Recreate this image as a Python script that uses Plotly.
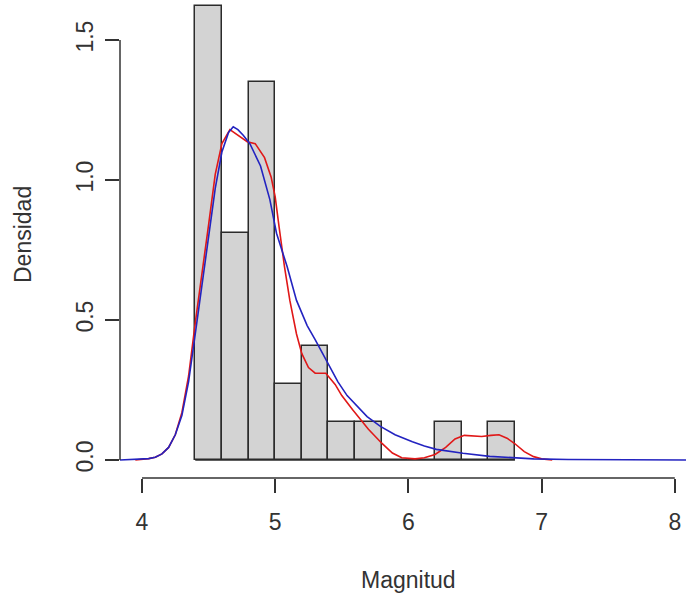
import plotly.graph_objects as go

# Histogram bins (Magnitud) and counts
bin_edges = [4.4, 4.6, 4.8, 5.0, 5.2, 5.4, 5.6, 5.8, 6.0, 6.2, 6.4, 6.6, 6.8]
counts = [12, 6, 10, 2, 3, 1, 1, 0, 0, 1, 0, 1]

# Kernel density curve (red)
kde_x = [3.95, 4.00, 4.05, 4.10, 4.15, 4.20, 4.25, 4.30, 4.35, 4.40, 4.45, 4.50, 4.55, 4.60,
         4.66, 4.72, 4.79, 4.85, 4.92, 4.97, 5.00, 5.03, 5.07, 5.11, 5.16, 5.20, 5.25, 5.30,
         5.38, 5.45, 5.50, 5.58, 5.65, 5.70, 5.80, 5.88, 5.95, 6.05, 6.12, 6.20, 6.28, 6.35,
         6.42, 6.50, 6.55, 6.62, 6.68, 6.74, 6.80, 6.87, 6.94, 7.00, 7.08]
kde_y = [0.000, 0.002, 0.005, 0.010, 0.022, 0.045, 0.09, 0.17, 0.30, 0.49, 0.66, 0.84, 1.02, 1.13,
         1.18, 1.16, 1.137, 1.13, 1.08, 1.01, 0.94, 0.83, 0.69, 0.57, 0.45, 0.38, 0.33, 0.31,
         0.31, 0.27, 0.23, 0.18, 0.14, 0.11, 0.06, 0.025, 0.008, 0.004, 0.008, 0.02, 0.045, 0.075,
         0.088, 0.086, 0.084, 0.088, 0.09, 0.078, 0.058, 0.03, 0.012, 0.004, 0.000]

# Fitted density curve (blue)
fit_x = [3.835, 3.95, 4.05, 4.10, 4.15, 4.20, 4.25, 4.30, 4.35, 4.40, 4.45, 4.50, 4.55, 4.60,
         4.65, 4.685, 4.72, 4.76, 4.81, 4.89, 4.96, 5.01, 5.09, 5.16, 5.24, 5.30, 5.39, 5.47, 5.54,
         5.62, 5.69, 5.79, 5.90, 6.03, 6.12, 6.21, 6.41, 6.61, 6.80, 6.94, 7.20, 7.54, 8.084]
fit_y = [0.000, 0.0015, 0.005, 0.010, 0.022, 0.045, 0.09, 0.16, 0.28, 0.45, 0.62, 0.79, 0.97, 1.10,
         1.17, 1.19, 1.18, 1.16, 1.13, 1.05, 0.93, 0.81, 0.69, 0.57, 0.48, 0.43, 0.35, 0.28, 0.23,
         0.19, 0.155, 0.12, 0.09, 0.065, 0.05, 0.038, 0.024, 0.013, 0.007, 0.004, 0.002, 0.001, 0.0]

x_ticks = [4, 5, 6, 7, 8]
y_ticks = [0.0, 0.5, 1.0, 1.5]
y_ticktext = ["0.0", "0.5", "1.0", "1.5"]

n = sum(counts)
centers = [(a + b) / 2 for a, b in zip(bin_edges[:-1], bin_edges[1:])]
widths = [b - a for a, b in zip(bin_edges[:-1], bin_edges[1:])]
dens = [c / (n * w) for c, w in zip(counts, widths)]

FONT = "Liberation Sans, Arial, sans-serif"
FS = 23
fig = go.Figure()
fig.add_trace(go.Bar(x=centers, y=dens, width=widths,
                     marker=dict(color="#d3d3d3", line=dict(color="#2b2b2b", width=1.5)),
                     showlegend=False, hoverinfo="skip"))
# baseline under empty bins
fig.add_trace(go.Scatter(x=[bin_edges[0], bin_edges[-1]], y=[0, 0], mode="lines",
                         line=dict(color="#2b2b2b", width=1.5), showlegend=False, hoverinfo="skip"))
fig.add_trace(go.Scatter(x=kde_x, y=kde_y, mode="lines",
                         line=dict(color="#e01818", width=1.6), showlegend=False))
fig.add_trace(go.Scatter(x=fit_x, y=fit_y, mode="lines",
                         line=dict(color="#2323c0", width=1.6), showlegend=False))

W, H = 686, 594
L, B = 120, 116
fig.update_layout(
    width=W, height=H,
    margin=dict(l=L, r=0, t=0, b=B, pad=0),
    paper_bgcolor="white", plot_bgcolor="white",
    font=dict(family=FONT, size=FS, color="#333333"),
    bargap=0,
    xaxis=dict(range=[3.835, 8.084], tickvals=x_ticks, ticks="outside", ticklen=14,
               tickwidth=1.5, tickcolor="#333333", showgrid=False, zeroline=False,
               showline=False, ticklabelstandoff=9),
    yaxis=dict(range=[-0.0643, 1.643], tickvals=y_ticks, ticktext=y_ticktext,
               ticks="outside", ticklen=14, tickwidth=1.5, tickcolor="#333333",
               showgrid=False, zeroline=False, showline=False, tickangle=-90,
               ticklabelstandoff=3),
    shapes=[
        dict(type="line", xref="x", yref="paper", x0=x_ticks[0], x1=x_ticks[-1], y0=0, y1=0,
             line=dict(color="#333333", width=1.5)),
        dict(type="line", xref="paper", yref="y", x0=0, x1=0, y0=y_ticks[0], y1=y_ticks[-1],
             line=dict(color="#333333", width=1.5)),
    ],
    annotations=[
        dict(text="Magnitud", xref="paper", yref="paper", x=(408 - L) / (W - L),
             y=(478 - 580) / 478, showarrow=False, xanchor="center", yanchor="middle",
             font=dict(size=FS)),
        dict(text="Densidad", xref="paper", yref="paper", x=(23 - L) / (W - L),
             y=(478 - 235) / 478, showarrow=False, textangle=-90, xanchor="center",
             yanchor="middle", font=dict(size=FS)),
    ],
)

fig.write_html("out.html")
